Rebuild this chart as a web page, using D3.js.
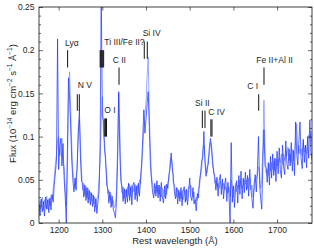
<!DOCTYPE html>
<html>
<head>
<meta charset="utf-8">
<script src="https://cdn.jsdelivr.net/npm/d3@7"></script>
<style>
  body { margin: 0; background: #fff; }
  text { font-family: "Liberation Sans", Arial, sans-serif; }
</style>
</head>
<body>
<div class="chart"></div>
<script>
// spectrum (one value every 2.5 A from 1155 A)
const waveStart = 1155;
const waveStep = 2.5;

const darkFlux = [
  0.022, 0.009, 0.028, 0.013, 0.025, 0.008, 0.030, 0.016, 0.027, 0.012,
  0.029, 0.015, 0.033, 0.024, 0.045, 0.058, 0.072, 0.213, 0.062, 0.088,
  0.098, 0.066, 0.092, 0.052, 0.030, 0.000, 0.085, 0.168, 0.145, 0.112,
  0.072, 0.050, 0.036, 0.052, 0.038, 0.070, 0.102, 0.131, 0.074, 0.048,
  0.046, 0.030, 0.044, 0.026, 0.041, 0.023, 0.038, 0.021, 0.035, 0.019,
  0.032, 0.013, 0.028, 0.011, 0.025, 0.036, 0.092, 0.270, 0.125, 0.118,
  0.085, 0.075, 0.044, 0.040, 0.023, 0.036, 0.018, 0.031, 0.016, 0.012,
  0.006, 0.028, 0.072, 0.152, 0.082, 0.048, 0.042, 0.025, 0.040, 0.022,
  0.039, 0.024, 0.046, 0.026, 0.042, 0.021, 0.044, 0.047, 0.027, 0.043,
  0.025, 0.046, 0.031, 0.052, 0.070, 0.098, 0.131, 0.104, 0.120, 0.138,
  0.152, 0.112, 0.068, 0.050, 0.036, 0.029, 0.046, 0.031, 0.049, 0.029,
  0.044, 0.025, 0.047, 0.030, 0.023, 0.043, 0.028, 0.045, 0.040, 0.056,
  0.062, 0.081, 0.064, 0.054, 0.036, 0.028, 0.041, 0.022, 0.038, 0.025,
  0.041, 0.020, 0.037, 0.042, 0.024, 0.039, 0.021, 0.035, 0.052, 0.030,
  0.026, 0.041, 0.022, 0.027, 0.014, 0.034, 0.029, 0.049, 0.058, 0.072,
  0.076, 0.106, 0.070, 0.054, 0.064, 0.068, 0.088, 0.098, 0.086, 0.072,
  0.058, 0.054, 0.038, 0.053, 0.031, 0.049, 0.056, 0.033, 0.051, 0.028,
  0.045, 0.052, 0.025, 0.047, 0.032, 0.000, 0.093, 0.024, 0.043, 0.018,
  0.040, 0.049, 0.023, 0.055, 0.033, 0.060, 0.028, 0.052, 0.035, 0.059,
  0.038, 0.055, 0.031, 0.062, 0.041, 0.028, 0.017, 0.045, 0.056, 0.036,
  0.062, 0.100, 0.046, 0.028, 0.016, 0.072, 0.108, 0.066, 0.064, 0.047,
  0.070, 0.044, 0.077, 0.052, 0.080, 0.055, 0.075, 0.048, 0.083, 0.057,
  0.087, 0.061, 0.052, 0.090, 0.065, 0.056, 0.095, 0.069, 0.062, 0.086,
  0.066, 0.093, 0.060, 0.084, 0.055, 0.117, 0.080, 0.067, 0.095, 0.117,
  0.075, 0.063, 0.097, 0.070, 0.090, 0.064, 0.100, 0.075, 0.119, 0.083,
  0.072
];

const lightFlux = [
  0.014, 0.026, 0.017, 0.030, 0.015, 0.027, 0.018, 0.031, 0.016, 0.028,
  0.020, 0.032, 0.027, 0.040, 0.052, 0.068, 0.080, 0.095, 0.100, 0.078,
  0.085, 0.098, 0.070, 0.065, 0.040, 0.020, 0.060, 0.140, 0.175, 0.130,
  0.090, 0.060, 0.048, 0.040, 0.056, 0.062, 0.110, 0.120, 0.090, 0.058,
  0.038, 0.046, 0.032, 0.042, 0.029, 0.040, 0.027, 0.036, 0.025, 0.033,
  0.022, 0.030, 0.018, 0.028, 0.032, 0.050, 0.070, 0.120, 0.146, 0.105,
  0.095, 0.068, 0.058, 0.034, 0.038, 0.026, 0.033, 0.020, 0.026, 0.018,
  0.020, 0.040, 0.090, 0.150, 0.110, 0.060, 0.035, 0.042, 0.028, 0.038,
  0.030, 0.042, 0.032, 0.045, 0.030, 0.044, 0.036, 0.040, 0.045, 0.032,
  0.044, 0.034, 0.050, 0.045, 0.062, 0.085, 0.110, 0.125, 0.140, 0.170,
  0.192, 0.130, 0.085, 0.055, 0.045, 0.040, 0.034, 0.043, 0.035, 0.044,
  0.032, 0.042, 0.030, 0.040, 0.037, 0.030, 0.044, 0.033, 0.048, 0.050,
  0.072, 0.075, 0.070, 0.046, 0.044, 0.036, 0.030, 0.040, 0.029, 0.036,
  0.028, 0.038, 0.027, 0.034, 0.038, 0.026, 0.036, 0.042, 0.040, 0.044,
  0.036, 0.030, 0.036, 0.024, 0.030, 0.026, 0.040, 0.042, 0.055, 0.064,
  0.085, 0.090, 0.075, 0.062, 0.058, 0.075, 0.080, 0.093, 0.092, 0.064,
  0.062, 0.046, 0.050, 0.042, 0.046, 0.040, 0.048, 0.044, 0.040, 0.046,
  0.038, 0.042, 0.036, 0.035, 0.042, 0.030, 0.050, 0.040, 0.030, 0.036,
  0.046, 0.036, 0.044, 0.040, 0.050, 0.044, 0.040, 0.043, 0.050, 0.045,
  0.050, 0.040, 0.052, 0.045, 0.038, 0.044, 0.030, 0.038, 0.048, 0.052,
  0.055, 0.065, 0.060, 0.040, 0.050, 0.090, 0.142, 0.085, 0.058, 0.062,
  0.055, 0.068, 0.060, 0.070, 0.062, 0.072, 0.060, 0.074, 0.066, 0.070,
  0.075, 0.070, 0.080, 0.068, 0.080, 0.072, 0.084, 0.078, 0.088, 0.072,
  0.080, 0.070, 0.085, 0.072, 0.078, 0.095, 0.115, 0.080, 0.090, 0.080,
  0.086, 0.078, 0.094, 0.082, 0.090, 0.080, 0.095, 0.102, 0.098, 0.106,
  0.090
];

const xTicks = [1200, 1300, 1400, 1500, 1600, 1700];
const yTicks = [0, 0.05, 0.1, 0.15, 0.2, 0.25];

// line identifications
const labelText = ["Ly\u03b1", "N V", "Ti III/Fe II?", "O I", "C II", "Si IV", "Si II", "C IV", "C I", "Fe II+Al II"];
const labelWave = [1214.5, 1243.6, 1304.5, 1304.5, 1323.7, 1392.4, 1512.1, 1542.6, 1631.9, 1652.5];
const labelFlux = [0.2054, 0.156, 0.2057, 0.1273, 0.185, 0.216, 0.1358, 0.1253, 0.1554, 0.185];
const markWaves = [
  [1220.5],
  [1242.7, 1247.3],
  [1295, 1297, 1299, 1301, 1303],
  [1305.5, 1307.5, 1309.5],
  [1338.2],
  [1396, 1402.9],
  [1528.9, 1535],
  [1548.5, 1551],
  [1658],
  [1670.1]
];
const markTop = [0.2, 0.149, 0.2, 0.121, 0.18, 0.21, 0.13, 0.12, 0.149, 0.18];
const markBottom = [0.18, 0.13, 0.18, 0.1, 0.16, 0.19, 0.11, 0.1, 0.13, 0.16];

const width = 314, height = 248;
const plotLeft = 39, plotTop = 7, plotRight = 312, plotBottom = 223;
const textColor = "#262626";

const svg = d3.select("div.chart").append("svg")
  .attr("width", width)
  .attr("height", height);

const x = d3.scaleLinear().domain([1155, 1780]).range([plotLeft, plotRight]);
const y = d3.scaleLinear().domain([0, 0.25]).range([plotBottom, plotTop]);

svg.append("defs").append("clipPath").attr("id", "plot-clip")
  .append("rect")
  .attr("x", plotLeft).attr("y", plotTop)
  .attr("width", plotRight - plotLeft).attr("height", plotBottom - plotTop);

const plot = svg.append("g").attr("clip-path", "url(#plot-clip)");

const spectrumLine = d3.line()
  .x((d, i) => x(waveStart + i * waveStep))
  .y(d => y(d));

plot.append("path")
  .datum(lightFlux)
  .attr("fill", "none")
  .attr("stroke", "#7b8fff")
  .attr("stroke-width", 0.75)
  .attr("d", spectrumLine);

plot.append("path")
  .datum(darkFlux)
  .attr("fill", "none")
  .attr("stroke", "#2238ff")
  .attr("stroke-width", 0.75)
  .attr("d", spectrumLine);

// axes, ticks pointing inward on all four sides
const minorY = d3.range(1, 25).map(d => d / 100).filter(d => Math.round(d * 100) % 5 !== 0);

function styleAxis(g) {
  g.select(".domain").remove();
  g.selectAll("line").attr("stroke", textColor).attr("stroke-width", 0.7);
  g.selectAll("text")
    .attr("fill", textColor)
    .style("font-family", '"Liberation Sans", Arial, sans-serif')
    .style("font-size", "8.5px");
}

svg.append("g")
  .attr("transform", `translate(0,${plotBottom})`)
  .call(d3.axisBottom(x).tickValues(xTicks).tickSize(-3.5).tickPadding(4).tickFormat(d3.format("d")))
  .call(styleAxis);

svg.append("g")
  .attr("transform", `translate(0,${plotTop})`)
  .call(d3.axisTop(x).tickValues(xTicks).tickSize(-3.5).tickFormat(""))
  .call(styleAxis);

svg.append("g")
  .attr("transform", `translate(${plotLeft},0)`)
  .call(d3.axisLeft(y).tickValues(yTicks).tickSize(-4).tickPadding(4.5).tickFormat(d => d))
  .call(styleAxis);

svg.append("g")
  .attr("transform", `translate(${plotRight},0)`)
  .call(d3.axisRight(y).tickValues(yTicks).tickSize(-4).tickFormat(""))
  .call(styleAxis);

svg.append("g")
  .attr("transform", `translate(${plotLeft},0)`)
  .call(d3.axisLeft(y).tickValues(minorY).tickSize(-2).tickFormat(""))
  .call(styleAxis);

svg.append("g")
  .attr("transform", `translate(${plotRight},0)`)
  .call(d3.axisRight(y).tickValues(minorY).tickSize(-2).tickFormat(""))
  .call(styleAxis);

svg.append("rect")
  .attr("x", plotLeft).attr("y", plotTop)
  .attr("width", plotRight - plotLeft).attr("height", plotBottom - plotTop)
  .attr("fill", "none")
  .attr("stroke", "#111")
  .attr("stroke-width", 0.8);

// annotations
const notes = svg.append("g");
labelText.forEach((t, i) => {
  markWaves[i].forEach(w => {
    notes.append("line")
      .attr("x1", x(w)).attr("x2", x(w))
      .attr("y1", y(markTop[i])).attr("y2", y(markBottom[i]))
      .attr("stroke", "#111")
      .attr("stroke-width", 1);
  });
  notes.append("text")
    .attr("x", x(labelWave[i]))
    .attr("y", y(labelFlux[i]))
    .attr("fill", textColor)
    .attr("font-size", "8.5px")
    .text(t);
});

// axis titles
svg.append("text")
  .attr("x", 175)
  .attr("y", 243.5)
  .attr("text-anchor", "middle")
  .attr("fill", textColor)
  .attr("font-size", "9.5px")
  .text("Rest wavelength (\u00c5)");

const yTitle = svg.append("text")
  .attr("transform", "translate(15.5,103.5) rotate(-90)")
  .attr("text-anchor", "middle")
  .attr("fill", textColor)
  .attr("font-size", "9.5px");

const yParts = [
  ["Flux (10", false], ["\u221214", true], [" erg cm", false], ["\u22122", true],
  [" s", false], ["\u22121", true], [" \u00c5", false], ["\u22121", true], [")", false]
];
let raised = false;
yParts.forEach(([s, sup]) => {
  const span = yTitle.append("tspan").text(s);
  if (sup && !raised) { span.attr("dy", -3.5).attr("font-size", "6.5px"); raised = true; }
  else if (sup) { span.attr("font-size", "6.5px"); }
  else if (raised) { span.attr("dy", 3.5); raised = false; }
});
</script>
</body>
</html>
